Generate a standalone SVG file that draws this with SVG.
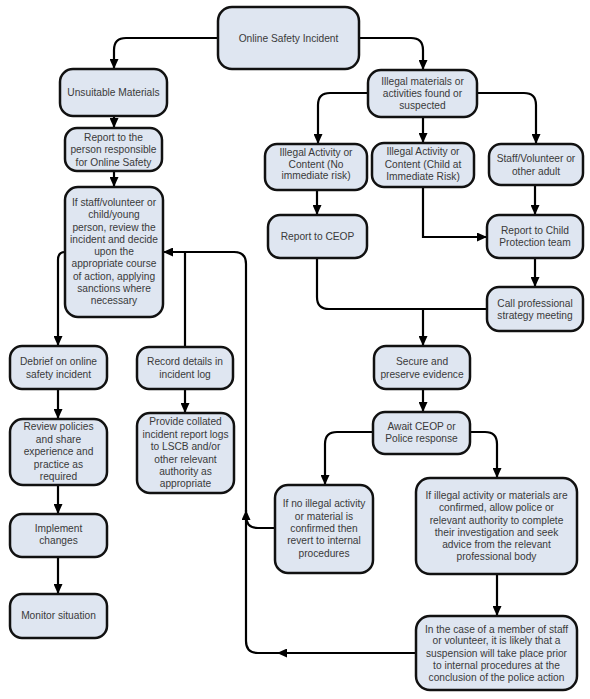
<svg xmlns="http://www.w3.org/2000/svg" width="590" height="699" viewBox="0 0 590 699">
<defs>
<marker id="ah" markerUnits="userSpaceOnUse" markerWidth="11" markerHeight="9" refX="10" refY="4.5" orient="auto">
<path d="M0,0 L10,4.5 L0,9 z" fill="#000"/>
</marker>
<style>
.box{fill:#dfe6f1;stroke:#111;stroke-width:2.5}
.t{font-family:"Liberation Sans",Arial,sans-serif;font-size:10.2px;fill:#3a3a3a;text-anchor:middle}
.c{fill:none;stroke:#000;stroke-width:2.2}
.a{marker-end:url(#ah)}
</style>
</defs>
<rect width="590" height="699" fill="#fff"/>
<g id="connectors">
<path class="c a" d="M218,38 H126 Q114,38 114,50 V69"/>
<path class="c a" d="M359,38 H411 Q423,38 423,50 V70"/>
<path class="c a" d="M114,116 V128"/>
<path class="c a" d="M114,171 V187"/>
<path class="c a" d="M368,93 H330 Q318,93 318,105 V144"/>
<path class="c a" d="M423,117 V143"/>
<path class="c a" d="M477,93 H524 Q536,93 536,105 V144"/>
<path class="c a" d="M317,190 V215"/>
<path class="c a" d="M423,187 V237 H487"/>
<path class="c a" d="M535,185 V215"/>
<path class="c a" d="M535,258 V287"/>
<path class="c" d="M317,258 V297 Q317,309 329,309 H487"/>
<path class="c a" d="M423,309 V346"/>
<path class="c a" d="M423,389 V412"/>
<path class="c a" d="M373,432 H337 Q325,432 325,444 V485"/>
<path class="c a" d="M470,432 H485 Q497,432 497,444 V478"/>
<path class="c a" d="M497,574 V616"/>
<path class="c a" d="M416,653 H277"/>
<path class="c a" d="M279,653 H258 Q246,653 246,641 V510"/>
<path class="c a" d="M246,512 V264 Q246,252 234,252 H163"/>
<path class="c" d="M275,528 H258 Q246,528 246,516"/>
<path class="c" d="M185,347 V252"/>
<path class="c a" d="M65,252 Q58,252 58,260 V346"/>
<path class="c a" d="M58,389 V419"/>
<path class="c a" d="M58,485 V514"/>
<path class="c a" d="M58,557 V594"/>
<path class="c a" d="M185,389 V413"/>
</g>
<g id="n_incident"><rect class="box" x="218" y="7" width="141" height="62" rx="14"/><text class="t" x="288.5" y="41.6">Online Safety Incident</text></g>
<g id="n_unsuitable"><rect class="box" x="60" y="69" width="107" height="47" rx="13"/><text class="t" x="113.5" y="95.6">Unsuitable Materials</text></g>
<g id="n_report_person"><rect class="box" x="65" y="128" width="97" height="43" rx="12"/><text class="t" x="113.5"><tspan x="113.5" y="140.6">Report to the</tspan><tspan x="113.5" y="153.1">person responsible</tspan><tspan x="113.5" y="165.6">for Online Safety</tspan></text></g>
<g id="n_review"><rect class="box" x="65" y="187" width="98" height="130" rx="13"/><text class="t" x="114"><tspan x="114" y="205.9">If staff/volunteer or</tspan><tspan x="114" y="218.2">child/young</tspan><tspan x="114" y="230.5">person, review the</tspan><tspan x="114" y="242.8">incident and decide</tspan><tspan x="114" y="255.1">upon the</tspan><tspan x="114" y="267.4">appropriate course</tspan><tspan x="114" y="279.7">of action, applying</tspan><tspan x="114" y="292">sanctions where</tspan><tspan x="114" y="304.3">necessary</tspan></text></g>
<g id="n_illegal"><rect class="box" x="368" y="70" width="109" height="47" rx="13"/><text class="t" x="422.5"><tspan x="422.5" y="84.6">Illegal materials or</tspan><tspan x="422.5" y="96.6">activities found or</tspan><tspan x="422.5" y="108.6">suspected</tspan></text></g>
<g id="n_no_risk"><rect class="box" x="265" y="144" width="102" height="46" rx="12"/><text class="t" x="316"><tspan x="316" y="155.9">Illegal Activity or</tspan><tspan x="316" y="167.6">Content (No</tspan><tspan x="316" y="179.3">immediate risk)</tspan></text></g>
<g id="n_child_risk"><rect class="box" x="372" y="143" width="102" height="44" rx="12"/><text class="t" x="423"><tspan x="423" y="155.3">Illegal Activity or</tspan><tspan x="423" y="167.6">Content (Child at</tspan><tspan x="423" y="179.6">Immediate Risk)</tspan></text></g>
<g id="n_staff"><rect class="box" x="489" y="144" width="94" height="41" rx="12"/><text class="t" x="536"><tspan x="536" y="162.3">Staff/Volunteer or</tspan><tspan x="536" y="174.6">other adult</tspan></text></g>
<g id="n_ceop"><rect class="box" x="268" y="215" width="99" height="43" rx="12"/><text class="t" x="317.5" y="240.3">Report to CEOP</text></g>
<g id="n_cpt"><rect class="box" x="487" y="215" width="96" height="43" rx="12"/><text class="t" x="535"><tspan x="535" y="233.6">Report to Child</tspan><tspan x="535" y="245.6">Protection team</tspan></text></g>
<g id="n_strategy"><rect class="box" x="487" y="287" width="96" height="44" rx="12"/><text class="t" x="535"><tspan x="535" y="306.9">Call professional</tspan><tspan x="535" y="319.3">strategy meeting</tspan></text></g>
<g id="n_secure"><rect class="box" x="374" y="346" width="96" height="43" rx="12"/><text class="t" x="422"><tspan x="422" y="365.3">Secure and</tspan><tspan x="422" y="377.6">preserve evidence</tspan></text></g>
<g id="n_await"><rect class="box" x="373" y="412" width="97" height="42" rx="12"/><text class="t" x="421.5"><tspan x="421.5" y="429.6">Await CEOP or</tspan><tspan x="421.5" y="441.9">Police response</tspan></text></g>
<g id="n_no_illegal"><rect class="box" x="275" y="485" width="98" height="88" rx="13"/><text class="t" x="324"><tspan x="324" y="506.9">If no illegal activity</tspan><tspan x="324" y="519.6">or material is</tspan><tspan x="324" y="531.9">confirmed then</tspan><tspan x="324" y="544.3">revert to internal</tspan><tspan x="324" y="556.9">procedures</tspan></text></g>
<g id="n_confirmed"><rect class="box" x="416" y="478" width="161" height="96" rx="14"/><text class="t" x="496.5"><tspan x="496.5" y="498.6">If illegal activity or materials are</tspan><tspan x="496.5" y="510.9">confirmed, allow police or</tspan><tspan x="496.5" y="523.6">relevant authority to complete</tspan><tspan x="496.5" y="535.9">their investigation and seek</tspan><tspan x="496.5" y="547.9">advice from the relevant</tspan><tspan x="496.5" y="560.3">professional body</tspan></text></g>
<g id="n_suspension"><rect class="box" x="416" y="616" width="161" height="74" rx="14"/><text class="t" x="496.5"><tspan x="496.5" y="632.6">In the case of a member of staff</tspan><tspan x="496.5" y="644.3">or volunteer, it is likely that a</tspan><tspan x="496.5" y="656.9">suspension will take place prior</tspan><tspan x="496.5" y="669.3">to internal procedures at the</tspan><tspan x="496.5" y="680.9">conclusion of the police action</tspan></text></g>
<g id="n_debrief"><rect class="box" x="10" y="346" width="97" height="43" rx="12"/><text class="t" x="58.5"><tspan x="58.5" y="365.3">Debrief on online</tspan><tspan x="58.5" y="377.6">safety incident</tspan></text></g>
<g id="n_record"><rect class="box" x="137" y="347" width="96" height="42" rx="12"/><text class="t" x="185"><tspan x="185" y="365.3">Record details in</tspan><tspan x="185" y="377.6">incident log</tspan></text></g>
<g id="n_policies"><rect class="box" x="10" y="419" width="97" height="66" rx="13"/><text class="t" x="58.5"><tspan x="58.5" y="430.3">Review policies</tspan><tspan x="58.5" y="442.9">and share</tspan><tspan x="58.5" y="455.3">experience and</tspan><tspan x="58.5" y="467.6">practice as</tspan><tspan x="58.5" y="480.3">required</tspan></text></g>
<g id="n_provide"><rect class="box" x="137" y="413" width="97" height="80" rx="13"/><text class="t" x="185.5"><tspan x="185.5" y="425.3">Provide collated</tspan><tspan x="185.5" y="437.9">incident report logs</tspan><tspan x="185.5" y="450.3">to LSCB and/or</tspan><tspan x="185.5" y="462.6">other relevant</tspan><tspan x="185.5" y="474.6">authority as</tspan><tspan x="185.5" y="486.9">appropriate</tspan></text></g>
<g id="n_implement"><rect class="box" x="10" y="514" width="97" height="43" rx="12"/><text class="t" x="58.5"><tspan x="58.5" y="531.9">Implement</tspan><tspan x="58.5" y="544.3">changes</tspan></text></g>
<g id="n_monitor"><rect class="box" x="10" y="594" width="97" height="44" rx="12"/><text class="t" x="58.5" y="619.3">Monitor situation</text></g>
</svg>
